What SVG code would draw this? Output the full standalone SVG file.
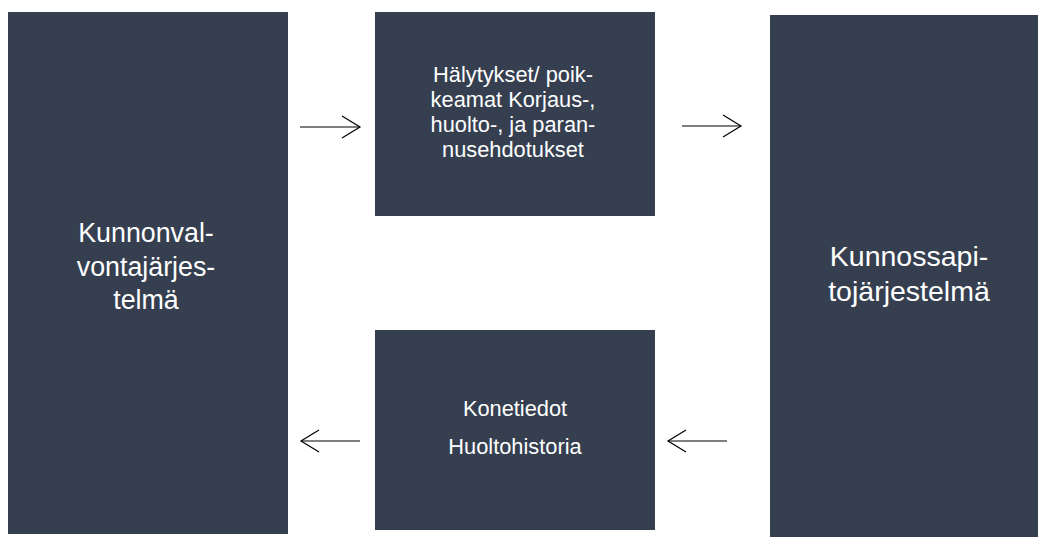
<svg xmlns="http://www.w3.org/2000/svg" width="1038" height="537" viewBox="0 0 1038 537">
<style>
.box{fill:#353f50}
.t{fill:#ffffff;font-family:"Liberation Sans",Arial,sans-serif;text-anchor:middle}
.bigl{font-size:26.8px}
.bigr{font-size:28.5px}
.small{font-size:21.8px}
.c{stroke:#000;stroke-width:1.2;fill:none}
</style>
<defs>
<marker id="ah" markerWidth="24" markerHeight="26" refX="20" refY="12" orient="auto" markerUnits="userSpaceOnUse">
<path d="M2,1 L20,12 L2,23" fill="none" stroke="#000" stroke-width="1.2"/>
</marker>
</defs>
<rect width="1038" height="537" fill="#fff"/>
<g id="node-kunnonvalvonta">
<rect class="box" x="8" y="12" width="280" height="522"/>
<text class="t bigl" x="146" y="242">Kunnonval-</text>
<text class="t bigl" x="146" y="276">vontajärjes-</text>
<text class="t bigl" x="146" y="309">telmä</text>
</g>
<g id="node-halytykset">
<rect class="box" x="375" y="12" width="280" height="204"/>
<text class="t small" x="513" y="82">Hälytykset/ poik-</text>
<text class="t small" x="513" y="107">keamat Korjaus-,</text>
<text class="t small" x="513" y="132">huolto-, ja paran-</text>
<text class="t small" x="513" y="157">nusehdotukset</text>
</g>
<g id="node-konetiedot">
<rect class="box" x="375" y="330" width="280" height="200"/>
<text class="t small" x="515" y="416">Konetiedot</text>
<text class="t small" x="515" y="454">Huoltohistoria</text>
</g>
<g id="node-kunnossapito">
<rect class="box" x="770" y="15" width="268" height="522"/>
<text class="t bigr" x="909" y="266">Kunnossapi-</text>
<text class="t bigr" x="909" y="301">tojärjestelmä</text>
</g>
<g id="connectors">
<line class="c" x1="300" y1="127" x2="360" y2="127" marker-end="url(#ah)"/>
<line class="c" x1="682" y1="126" x2="741" y2="126" marker-end="url(#ah)"/>
<line class="c" x1="727" y1="441" x2="668" y2="441" marker-end="url(#ah)"/>
<line class="c" x1="360" y1="441" x2="301" y2="441" marker-end="url(#ah)"/>
</g>
</svg>
